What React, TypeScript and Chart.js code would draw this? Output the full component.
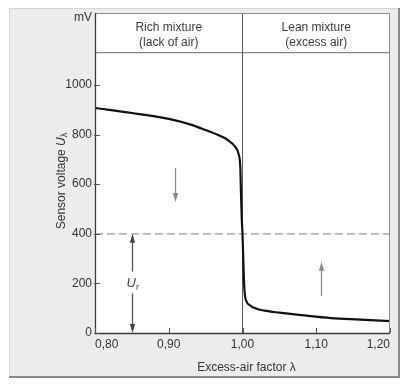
import { useEffect, useRef } from 'react';
import { Chart, registerables } from 'chart.js';

Chart.register(...registerables);

// ---- data ----
const lambdaValues = [0.80, 0.85, 0.90, 0.93, 0.95, 0.97, 0.98, 0.99, 0.995, 0.997, 0.998, 0.999, 1.000, 1.001, 1.002, 1.003, 1.005, 1.01, 1.02, 1.03, 1.05, 1.08, 1.12, 1.16, 1.20];
const sensorMv = [907, 887, 863, 840, 818, 794, 778, 750, 718, 669, 560, 460, 400, 300, 210, 160, 130, 112, 97, 90, 82, 72, 60, 54, 48];
const xTicks = [0.8, 0.9, 1.0, 1.1, 1.2];
const yTicks = [0, 200, 400, 600, 800, 1000];
const thresholdMv = 400;
const stoichLambda = 1.0;
const headerMv = 1130;
const xMin = 0.8;
const xMax = 1.2;
const yMin = 0;
const yMax = 1290;
const richLabel = ['Rich mixture', '(lack of air)'];
const leanLabel = ['Lean mixture', '(excess air)'];

const FONT = '"Liberation Sans", Arial, Helvetica, sans-serif';
const TEXT = '#333';

function drawArrowHead(ctx: CanvasRenderingContext2D, x: number, y: number, dir: number, color: string) {
  // dir = -1 points up, +1 points down
  ctx.save();
  ctx.fillStyle = color;
  ctx.beginPath();
  ctx.moveTo(x, y);
  ctx.lineTo(x - 2.6, y - dir * 9);
  ctx.lineTo(x + 2.6, y - dir * 9);
  ctx.closePath();
  ctx.fill();
  ctx.restore();
}

const decorPlugin = {
  id: 'decor',
  beforeDraw(chart: any) {
    const { ctx, chartArea: a } = chart;
    ctx.save();
    ctx.fillStyle = '#ffffff';
    ctx.fillRect(0, 0, chart.width, chart.height);
    // outer panel
    ctx.fillStyle = '#ececea';
    ctx.fillRect(9, 8, 391, 370);
    ctx.strokeStyle = '#d4d4d4';
    ctx.lineWidth = 1;
    ctx.beginPath();
    ctx.moveTo(9.5, 378);
    ctx.lineTo(9.5, 8.5);
    ctx.lineTo(400, 8.5);
    ctx.stroke();
    ctx.strokeStyle = '#8a8a8a';
    ctx.lineWidth = 2;
    ctx.beginPath();
    ctx.moveTo(399, 8);
    ctx.lineTo(399, 377);
    ctx.lineTo(9, 377);
    ctx.stroke();
    // plot area
    ctx.fillStyle = '#ffffff';
    ctx.fillRect(a.left, a.top, a.right - a.left, a.bottom - a.top);
    ctx.restore();
  },
  afterDatasetsDraw(chart: any) {
    const { ctx, chartArea: a } = chart;
    const xs = chart.scales.x;
    const ys = chart.scales.y;
    ctx.save();
    // frame: top/right gray, left/bottom dark
    ctx.lineWidth = 1;
    ctx.strokeStyle = '#8c8c8c';
    ctx.beginPath();
    ctx.moveTo(a.left, a.top + 0.5);
    ctx.lineTo(a.right - 0.5, a.top + 0.5);
    ctx.lineTo(a.right - 0.5, a.bottom);
    ctx.stroke();
    ctx.strokeStyle = '#3a3a3a';
    ctx.lineWidth = 1.3;
    ctx.beginPath();
    ctx.moveTo(a.left + 0.5, a.top);
    ctx.lineTo(a.left + 0.5, a.bottom + 0.5);
    ctx.lineTo(a.right, a.bottom + 0.5);
    ctx.stroke();

    // inner ticks
    ctx.strokeStyle = '#555';
    ctx.lineWidth = 1;
    for (const v of yTicks) {
      const y = Math.round(ys.getPixelForValue(v)) + 0.5;
      ctx.beginPath();
      ctx.moveTo(a.left - 1, y);
      ctx.lineTo(a.left + 5, y);
      ctx.stroke();
    }
    for (const v of xTicks) {
      const x = Math.round(xs.getPixelForValue(v)) + 0.5;
      ctx.beginPath();
      ctx.moveTo(x, a.bottom);
      ctx.lineTo(x, a.bottom - 5);
      ctx.stroke();
    }

    // header texts
    ctx.fillStyle = '#3c3c3c';
    ctx.font = `12px ${FONT}`;
    ctx.textAlign = 'center';
    ctx.textBaseline = 'middle';
    const richX = xs.getPixelForValue((xMin + stoichLambda) / 2);
    const leanX = xs.getPixelForValue((stoichLambda + xMax) / 2);
    const l1 = ys.getPixelForValue(1232);
    const l2 = ys.getPixelForValue(1170);
    ctx.fillText(richLabel[0], richX, l1);
    ctx.fillText(richLabel[1], richX, l2);
    ctx.fillText(leanLabel[0], leanX, l1);
    ctx.fillText(leanLabel[1], leanX, l2);

    // mV unit label
    ctx.fillStyle = TEXT;
    ctx.textAlign = 'right';
    ctx.font = `12px ${FONT}`;
    ctx.fillText('mV', a.left - 3, ys.getPixelForValue(1272));

    // arrows
    const gray = '#8a8a8a';
    ctx.strokeStyle = gray;
    ctx.lineWidth = 1.3;
    // down arrow in rich area
    {
      const x = Math.round(xs.getPixelForValue(0.908)) + 0.5;
      const yT = ys.getPixelForValue(665);
      const yH = ys.getPixelForValue(528);
      ctx.beginPath();
      ctx.moveTo(x, yT);
      ctx.lineTo(x, yH - 6);
      ctx.stroke();
      drawArrowHead(ctx, x, yH, 1, gray);
    }
    // up arrow in lean area
    {
      const x = Math.round(xs.getPixelForValue(1.107)) + 0.5;
      const yT = ys.getPixelForValue(150);
      const yH = ys.getPixelForValue(287);
      ctx.beginPath();
      ctx.moveTo(x, yT);
      ctx.lineTo(x, yH + 6);
      ctx.stroke();
      drawArrowHead(ctx, x, yH, -1, gray);
    }
    // U_r double arrow
    {
      const x = Math.round(xs.getPixelForValue(0.85)) + 0.5;
      const yTop = ys.getPixelForValue(thresholdMv);
      const yBot = ys.getPixelForValue(0);
      const yLab = ys.getPixelForValue(200);
      ctx.strokeStyle = '#555';
      ctx.beginPath();
      ctx.moveTo(x, yTop + 6);
      ctx.lineTo(x, yLab - 12);
      ctx.moveTo(x, yLab + 10);
      ctx.lineTo(x, yBot - 6);
      ctx.stroke();
      drawArrowHead(ctx, x, yTop, -1, '#444');
      drawArrowHead(ctx, x, yBot, 1, '#444');
      ctx.fillStyle = '#444';
      ctx.textAlign = 'left';
      ctx.font = `italic 13px ${FONT}`;
      const uw = ctx.measureText('U').width;
      ctx.font = `italic 13px ${FONT}`;
      ctx.fillText('U', x - 6, yLab);
      ctx.font = `9px ${FONT}`;
      ctx.fillText('r', x - 6 + uw, yLab + 4);
    }

    // x axis title
    ctx.fillStyle = TEXT;
    ctx.textBaseline = 'middle';
    ctx.textAlign = 'center';
    ctx.font = `12px ${FONT}`;
    ctx.fillText('Excess-air factor \u03bb', (a.left + a.right) / 2 + 4, 368);

    // y axis title (rotated, rich text)
    ctx.save();
    ctx.translate(62, 181);
    ctx.rotate(-Math.PI / 2);
    ctx.textAlign = 'left';
    const p1 = 'Sensor voltage ';
    ctx.font = `12px ${FONT}`;
    const w1 = ctx.measureText(p1).width;
    ctx.font = `italic 12px ${FONT}`;
    const w2 = ctx.measureText('U').width;
    ctx.font = `9px ${FONT}`;
    const w3 = ctx.measureText('\u03bb').width;
    let sx = -(w1 + w2 + w3) / 2;
    ctx.font = `12px ${FONT}`;
    ctx.fillText(p1, sx, 0);
    sx += w1;
    ctx.font = `italic 12px ${FONT}`;
    ctx.fillText('U', sx, 0);
    sx += w2;
    ctx.font = `9px ${FONT}`;
    ctx.fillText('\u03bb', sx, 3);
    ctx.restore();

    ctx.restore();
  },
};

export default function App() {
  const ref = useRef<HTMLCanvasElement | null>(null);

  useEffect(() => {
    if (!ref.current) return;
    const curve = lambdaValues.map((x, i) => ({ x, y: sensorMv[i] }));
    const chart = new Chart(ref.current, {
      type: 'line',
      data: {
        datasets: [
          {
            data: curve,
            borderColor: '#111',
            borderWidth: 2.2,
            pointRadius: 0,
            cubicInterpolationMode: 'monotone',
            fill: false,
            order: 0,
          },
          {
            data: [{ x: xMin, y: thresholdMv }, { x: xMax, y: thresholdMv }],
            borderColor: '#9a9a9a',
            borderWidth: 1.2,
            borderDash: [8, 4],
            pointRadius: 0,
            order: 2,
          },
          {
            data: [{ x: stoichLambda, y: yMin }, { x: stoichLambda, y: yMax }],
            borderColor: '#5a5a5a',
            borderWidth: 1,
            pointRadius: 0,
            order: 1,
          },
          {
            data: [{ x: xMin, y: headerMv }, { x: xMax, y: headerMv }],
            borderColor: '#6a6a6a',
            borderWidth: 1,
            pointRadius: 0,
            order: 1,
          },
        ],
      },
      options: {
        responsive: false,
        animation: false,
        devicePixelRatio: 1,
        layout: { padding: { left: 0, top: 13, right: 20, bottom: 0 } },
        plugins: { legend: { display: false }, tooltip: { enabled: false }, title: { display: false } },
        scales: {
          x: {
            type: 'linear',
            min: xMin,
            max: xMax,
            afterBuildTicks: (s: any) => { s.ticks = xTicks.map((v) => ({ value: v })); },
            afterFit: (s: any) => { s.height = 54; },
            grid: { display: false, drawTicks: false },
            border: { display: false },
            ticks: {
              align: 'inner',
              padding: 4,
              color: TEXT,
              font: { family: FONT, size: 12 },
              maxRotation: 0,
              callback: (v: any) => Number(v).toFixed(2).replace('.', ','),
            },
          },
          y: {
            type: 'linear',
            min: yMin,
            max: yMax,
            afterBuildTicks: (s: any) => { s.ticks = yTicks.map((v) => ({ value: v })); },
            afterFit: (s: any) => { s.width = 95; },
            grid: { display: false, drawTicks: false },
            border: { display: false },
            ticks: {
              padding: 3,
              color: TEXT,
              font: { family: FONT, size: 12 },
              callback: (v: any) => String(v),
            },
          },
        },
      },
      plugins: [decorPlugin],
    } as any);
    return () => chart.destroy();
  }, []);

  return (
    <div style={{ position: 'fixed', left: 0, top: 0, width: 410, height: 387 }}>
      <canvas ref={ref} width={410} height={387} />
    </div>
  );
}
